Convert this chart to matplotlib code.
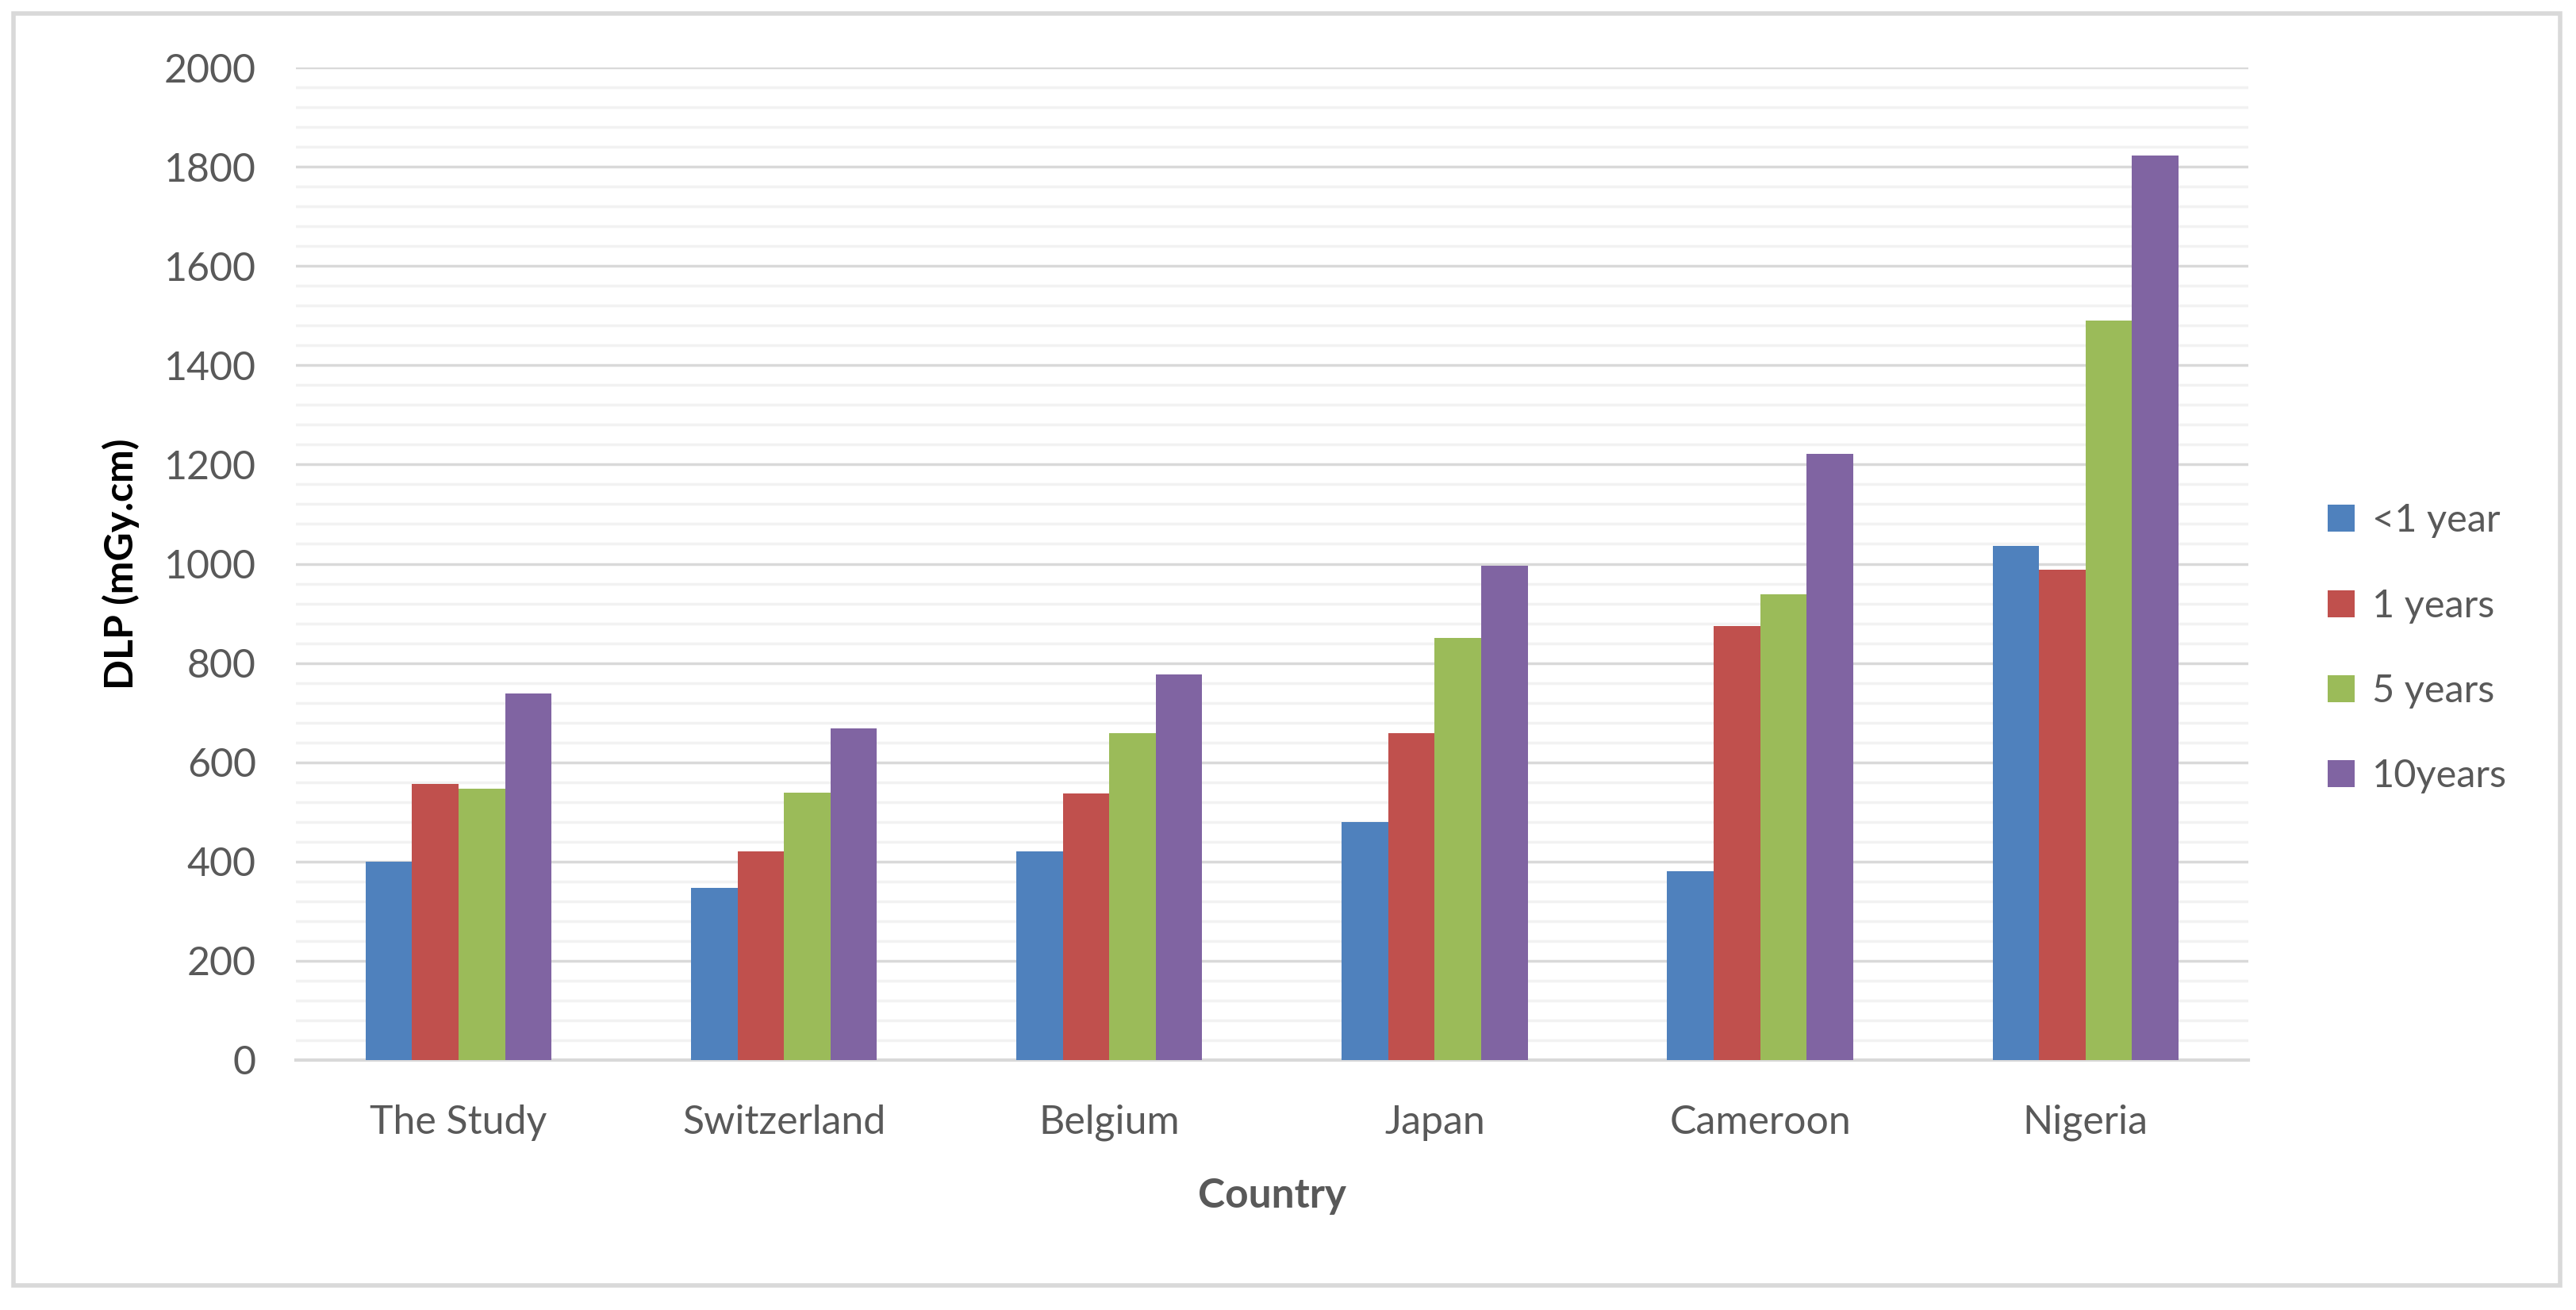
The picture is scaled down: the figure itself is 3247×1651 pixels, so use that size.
import numpy as np
import matplotlib.pyplot as plt
from matplotlib.patches import Rectangle, Patch
from matplotlib.ticker import MultipleLocator

# Data
countries = ['The Study', 'Switzerland', 'Belgium', 'Japan', 'Cameroon', 'Nigeria']
age_groups = ['<1 year', '1 years', '5 years', '10years']
under_1 = [400, 347, 421, 479, 381, 1036]
one_yr = [557, 421, 537, 659, 875, 988]
five_yr = [547, 538, 659, 850, 938, 1490]
ten_yr = [738, 669, 777, 996, 1222, 1822]

colors = ['#4F81BD', '#C0504D', '#9BBB59', '#8064A2']
text_c = '#595959'

plt.rcParams['font.family'] = ['Lato', 'DejaVu Sans']

fig = plt.figure(figsize=(32.48, 16.51), dpi=100)
ax = fig.add_axes([0.1148, 0.1908, 0.8725 - 0.1148, 0.9485 - 0.1908])

x = np.arange(len(countries))
w = 1 / 7
series = [under_1, one_yr, five_yr, ten_yr]
for i, vals in enumerate(series):
    ax.bar(x + (i - 1.5) * w, vals, width=w, color=colors[i], zorder=3)

ax.set_xlim(-0.5, len(countries) - 0.5)
ax.set_ylim(0, 2000)
ax.yaxis.set_major_locator(MultipleLocator(200))
ax.yaxis.set_minor_locator(MultipleLocator(40))
ax.grid(axis='y', which='major', color='#D9D9D9', linewidth=2.5, zorder=0)
ax.grid(axis='y', which='minor', color='#F2F2F2', linewidth=2.5, zorder=0)
ax.set_axisbelow(True)

for s in ['top', 'right', 'left']:
    ax.spines[s].set_visible(False)
ax.spines['bottom'].set_color('#D9D9D9')
ax.spines['bottom'].set_linewidth(3)

ax.set_xticks(x)
ax.set_xticklabels(countries)
ax.tick_params(axis='both', which='both', length=0, labelsize=36, colors=text_c)
ax.tick_params(axis='y', pad=36)
ax.tick_params(axis='x', pad=40)

ax.set_xlabel('Country', fontsize=37, fontweight='bold', color=text_c, labelpad=33)
ax.set_ylabel('DLP (mGy.cm)', fontsize=36, fontweight='bold', color='black', labelpad=22)

handles = [Patch(facecolor=c) for c in colors]
fig.legend(handles, age_groups, loc='center left', bbox_to_anchor=(0.89, 0.505),
           frameon=False, fontsize=35, labelcolor=text_c, handlelength=0.7,
           handleheight=0.7, handletextpad=0.45, labelspacing=1.3)

# light grey chart border
fig.patches.append(Rectangle((0.0052, 0.0188), 0.9883, 0.9709, transform=fig.transFigure,
                             fill=False, edgecolor='#D9D9D9', linewidth=4))

fig.savefig('out.png', dpi=100, facecolor='white')
